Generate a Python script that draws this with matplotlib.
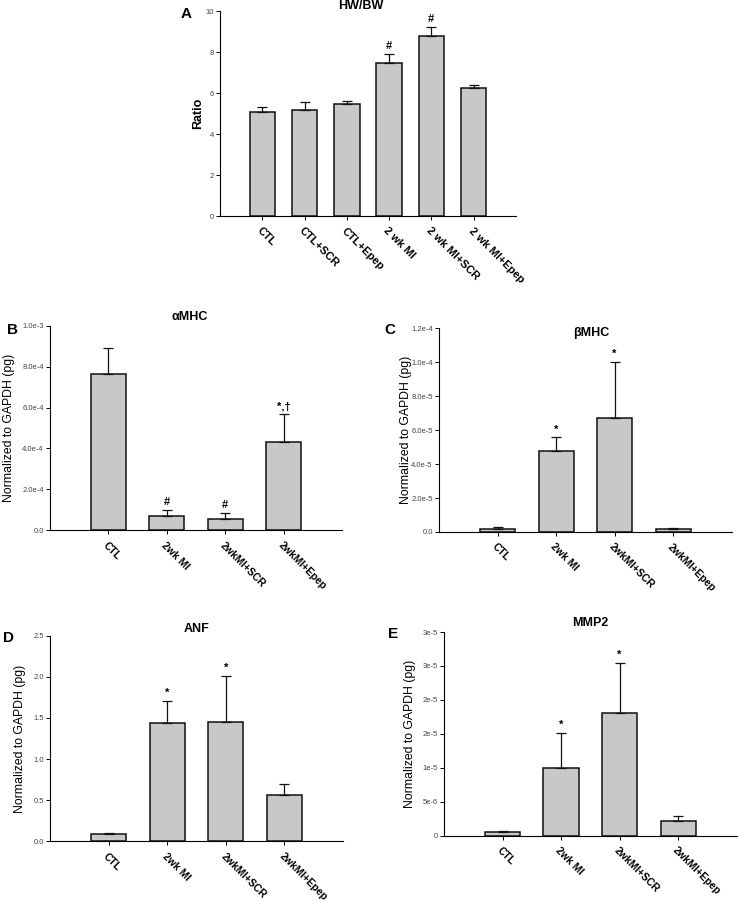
import matplotlib
matplotlib.use("Agg")
import matplotlib.pyplot as plt
from matplotlib.ticker import FixedLocator, FixedFormatter

plt.rcParams['font.family'] = ['Liberation Sans', 'DejaVu Sans']

# panel A
groups_a = ["CTL", "CTL+SCR", "CTL+Epep", "2 wk MI", "2 wk MI+SCR", "2 wk MI+Epep"]
hw_bw = [5.05, 5.15, 5.45, 7.48, 8.77, 6.25]
hw_bw_err = [0.28, 0.40, 0.17, 0.44, 0.45, 0.16]
hw_bw_marks = ["", "", "", "#", "#", ""]

# panels B-E
groups = ["CTL", "2wk MI", "2wkMI+SCR", "2wkMI+Epep"]
amhc = [7.62e-4, 0.70e-4, 0.57e-4, 4.33e-4]
amhc_err = [1.30e-4, 0.28e-4, 0.28e-4, 1.35e-4]
amhc_marks = ["", "#", "#", "*,\u2020"]

bmhc = [0.20e-5, 4.75e-5, 6.74e-5, 0.20e-5]
bmhc_err = [0.10e-5, 0.83e-5, 3.30e-5, 0.05e-5]
bmhc_marks = ["", "*", "*", ""]

anf = [0.085, 1.44, 1.45, 0.56]
anf_err = [0.015, 0.27, 0.56, 0.14]
anf_marks = ["", "*", "*", ""]

mmp2 = [0.49e-6, 1.00e-5, 1.81e-5, 2.16e-6]
mmp2_err = [0.15e-6, 0.52e-5, 0.74e-5, 0.78e-6]
mmp2_marks = ["", "*", "*", ""]


def bar_panel(ax, labels, vals, errs, marks, ymax, yticks, ytlabels, title,
              ylabel, ylab_x, title_x=0.5, title_y=1.04, ylabel_bold=False,
              xfs=7.5):
    n = len(vals)
    x = list(range(1, n + 1))
    ax.bar(x, vals, width=0.6, color="#c8c8c8", edgecolor="#111111", linewidth=1.1)
    ax.errorbar(x, vals, yerr=[[0] * n, errs], fmt="none", ecolor="#111111",
                elinewidth=0.9, capsize=3.5, capthick=0.9)
    for xi, v, e, m in zip(x, vals, errs, marks):
        if m:
            ax.annotate(m, (xi, v + e), xytext=(0, 2), textcoords="offset points",
                        ha="center", va="bottom", fontsize=8, fontweight="bold")
    ax.set_xlim(0, n + 1)
    ax.set_ylim(0, ymax)
    ax.spines["top"].set_visible(False)
    ax.spines["right"].set_visible(False)
    ax.spines["left"].set_linewidth(0.8)
    ax.spines["bottom"].set_linewidth(0.8)
    ax.yaxis.set_major_locator(FixedLocator(yticks))
    ax.yaxis.set_major_formatter(FixedFormatter(ytlabels))
    ax.tick_params(axis="y", labelsize=5.5, length=3, width=0.7, pad=1.5,
                   labelcolor="#444444")
    ax.set_xticks(x)
    ax.set_xticklabels(labels, rotation=-45, ha="left", va="top",
                       rotation_mode="anchor", fontsize=xfs, fontweight="bold")
    ax.tick_params(axis="x", length=3, width=0.7, pad=4)
    ax.text(title_x, title_y, title, transform=ax.transAxes, ha="center",
            va="center", fontsize=9, fontweight="bold")
    ax.set_ylabel(ylabel, fontsize=9 if ylabel_bold else 8.8,
                  fontweight="bold" if ylabel_bold else "normal")
    ax.yaxis.set_label_coords(ylab_x, 0.5)


fig = plt.figure(figsize=(7.38, 9.02), dpi=100)

ax_a = fig.add_axes([0.2981, 0.7605, 0.4011, 0.2273])
bar_panel(ax_a, groups_a, hw_bw, hw_bw_err, hw_bw_marks, 10,
          [0, 2, 4, 6, 8, 10], ["0", "2", "4", "6", "8", "10"],
          "HW/BW", "Ratio", -0.052, title_x=0.475, title_y=1.022,
          ylabel_bold=True, xfs=8)

ax_b = fig.add_axes([0.0678, 0.4121, 0.3956, 0.2268])
bar_panel(ax_b, groups, amhc, amhc_err, amhc_marks, 1e-3,
          [0, 2e-4, 4e-4, 6e-4, 8e-4, 1e-3],
          ["0.0", "2.0e-4", "4.0e-4", "6.0e-4", "8.0e-4", "1.0e-3"],
          "\u03b1MHC", "Normalized to GAPDH (pg)", -0.12, title_x=0.48,
          title_y=1.044)

ax_c = fig.add_axes([0.5949, 0.4102, 0.3966, 0.2258])
bar_panel(ax_c, groups, bmhc, bmhc_err, bmhc_marks, 1.2e-4,
          [0, 2e-5, 4e-5, 6e-5, 8e-5, 1e-4, 1.2e-4],
          ["0.0", "2.0e-5", "4.0e-5", "6.0e-5", "8.0e-5", "1.0e-4", "1.2e-4"],
          "\u03b2MHC", "Normalized to GAPDH (pg)", -0.092, title_x=0.52,
          title_y=0.975)

ax_d = fig.add_axes([0.0678, 0.0673, 0.3970, 0.2279])
bar_panel(ax_d, groups, anf, anf_err, anf_marks, 2.5,
          [0, 0.5, 1.0, 1.5, 2.0, 2.5],
          ["0.0", "0.5", "1.0", "1.5", "2.0", "2.5"],
          "ANF", "Normalized to GAPDH (pg)", -0.082, title_x=0.5,
          title_y=1.034)

ax_e = fig.add_axes([0.6016, 0.0735, 0.3966, 0.2258])
bar_panel(ax_e, groups, mmp2, mmp2_err, mmp2_marks, 3e-5,
          [0, 5e-6, 1e-5, 1.5e-5, 2e-5, 2.5e-5, 3e-5],
          ["0", "5e-6", "1e-5", "2e-5", "2e-5", "3e-5", "3e-5"],
          "MMP2", "Normalized to GAPDH (pg)", -0.096, title_x=0.5,
          title_y=1.044)

for lbl, (px, py) in {"A": (186, 14), "B": (12, 330), "C": (390, 330),
                      "D": (8, 638), "E": (393, 634)}.items():
    fig.text(px / 738, 1 - py / 902, lbl, ha="center", va="center",
             fontsize=11, fontweight="bold")

fig.savefig("out.png", dpi=100)
